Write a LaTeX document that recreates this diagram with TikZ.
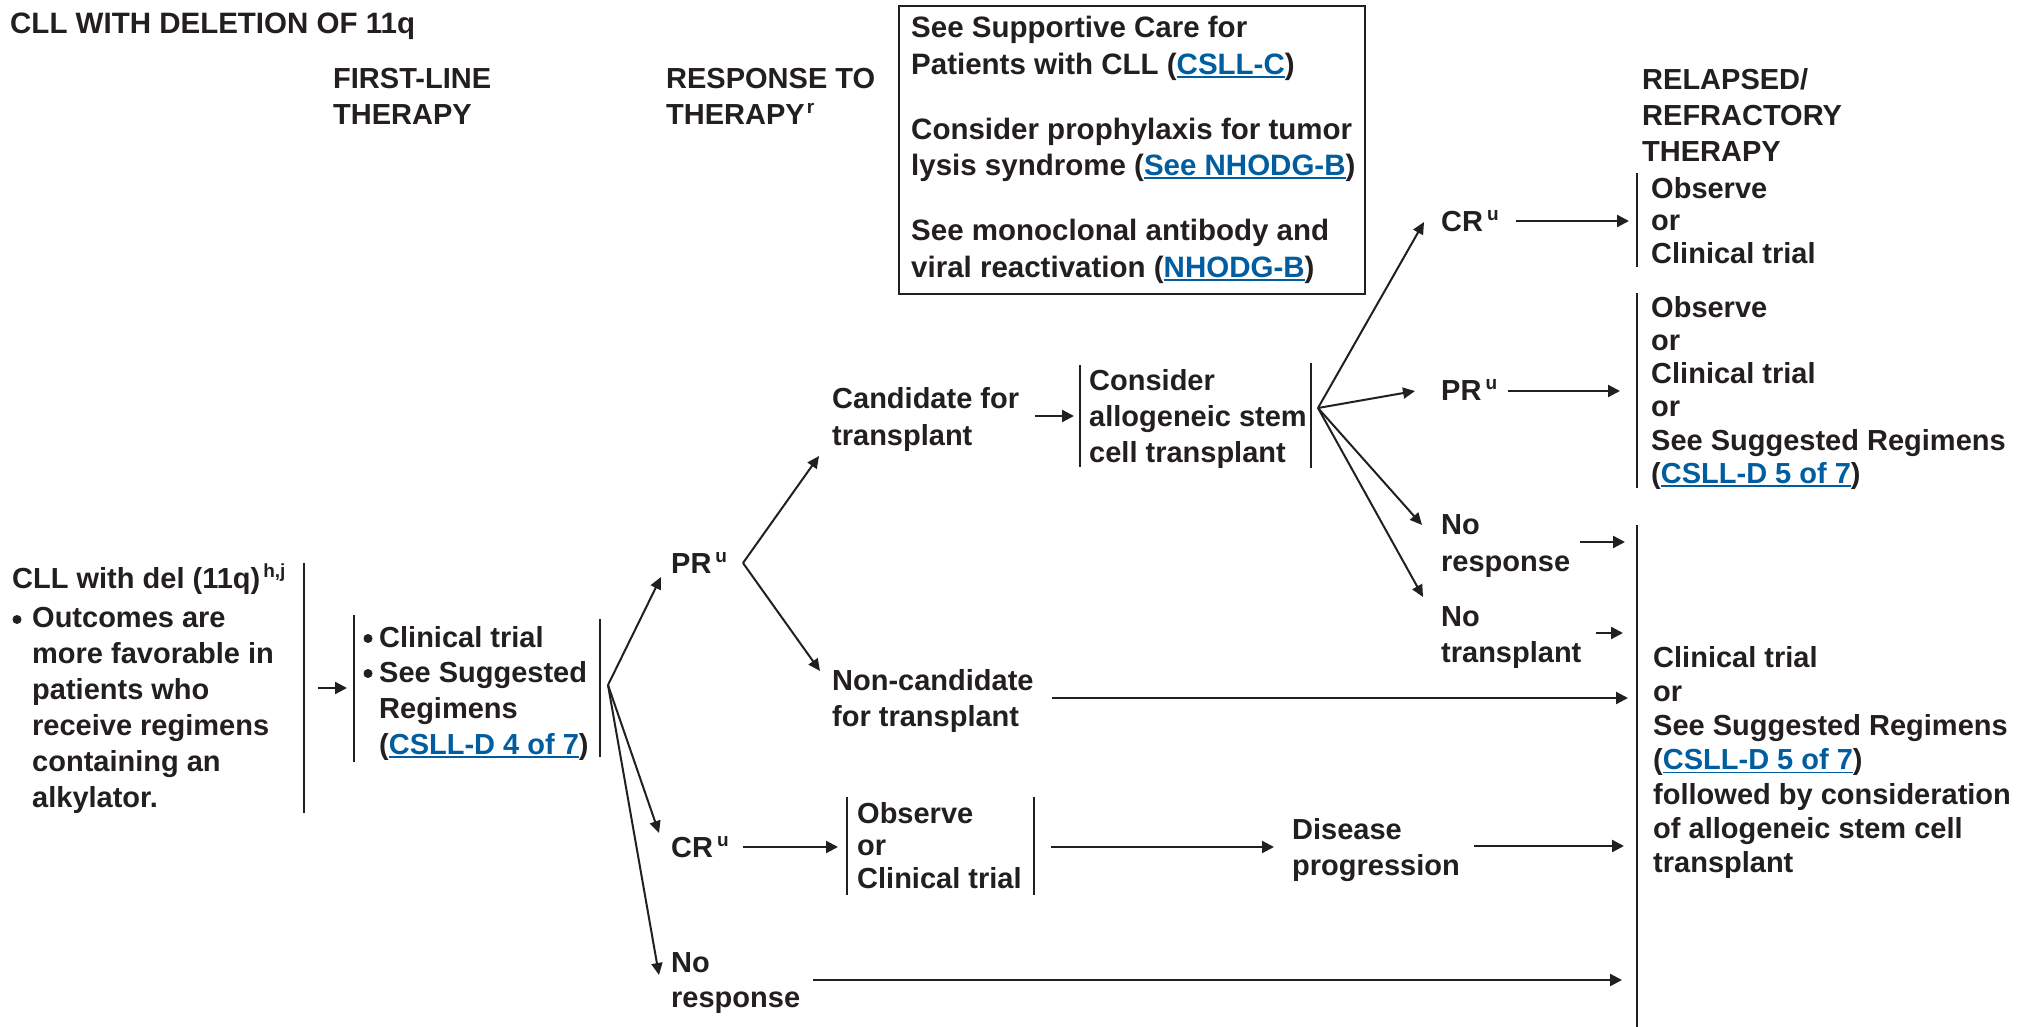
\documentclass[tikz,border=0pt]{standalone}
\usepackage{fontspec}
\setmainfont{Liberation Sans}
\usetikzlibrary{arrows.meta}
\definecolor{linkc}{RGB}{0,94,160}
\definecolor{ink}{RGB}{35,31,32}
\newcommand\mylink[1]{{\color{linkc}\setbox0\hbox{#1}\rlap{\rule[-3.5pt]{\wd0}{1.8pt}}\box0}}
\newcommand\mysup[1]{\raisebox{11pt}{\fontsize{19}{19}\selectfont #1}}
\begin{document}
\begin{tikzpicture}[x=1pt,y=-1pt,
  every node/.style={inner sep=0pt, text=ink},
  txt/.style={anchor=north west, align=left, font=\bfseries\fontsize{29}{#1}\selectfont},
  txt/.default=36,
  one/.style={anchor=base west, font=\bfseries\fontsize{29}{36}\selectfont},
  boxtext/.style={anchor=north west, align=left, font=\bfseries\fontsize{29.5}{36.5}\selectfont},
  dot/.style={circle, fill=ink, minimum size=9pt},
  arr/.style={draw=ink, line width=2.3pt, -{Triangle[length=12pt,width=12pt]}},
  conn/.style={draw=ink, line width=2pt, -{Triangle[length=12pt,width=11pt]}},
  bar/.style={draw=ink, line width=2pt},
]
\useasboundingbox[fill=white] (0,0) rectangle (2024,1027);

% headers
\node[one, font=\bfseries\fontsize{29.5}{36}\selectfont] (title) at (10,33.5) {CLL WITH DELETION OF 11q};
\node[txt] (h1) at (333,68) {FIRST-LINE\\THERAPY};
\node[txt] (h2) at (666,68) {RESPONSE TO\\THERAPY\hspace{2pt}\mysup{r}};
\node[txt] (h3) at (1642,68) {RELAPSED/\\REFRACTORY\\THERAPY};

% info box
\node[draw=ink, line width=2pt, anchor=north west, minimum width=466pt, minimum height=288pt] (box) at (898,5) {};
\node[boxtext] (boxtxt) at (911,16) {See Supportive Care for\\Patients with CLL (\mylink{CSLL-C})\\[28.5pt]Consider prophylaxis for tumor\\lysis syndrome (\mylink{See NHODG-B})\\[28.5pt]See monoclonal antibody and\\viral reactivation (\mylink{NHODG-B})};

% left block
\node[one] (cll) at (12,588.5) {CLL with del (11q)\hspace{3pt}\mysup{h,j}};
\node[dot] (bl1) at (17,619.5) {};
\node[txt] (cllt) at (32,607) {Outcomes are\\more favorable in\\patients who\\receive regimens\\containing an\\alkylator.};
\coordinate (barA1) at (304,563); \coordinate (barA2) at (304,813);
\draw[bar] (barA1) -- (barA2);
\coordinate (a0s) at (318,688); \coordinate (a0e) at (347,688);
\draw[arr] (a0s) -- (a0e);

% first-line therapy
\coordinate (barB1) at (354,615); \coordinate (barB2) at (354,762);
\draw[bar] (barB1) -- (barB2);
\node[dot] (bl2) at (368,638.5) {};
\node[dot] (bl3) at (368,673.5) {};
\node[txt=35.7] (flt) at (379,626) {Clinical trial\\See Suggested\\Regimens\\(\mylink{CSLL-D 4 of 7})};
\coordinate (barC1) at (600,619); \coordinate (barC2) at (600,757);
\draw[bar] (barC1) -- (barC2);
\coordinate (f1) at (608,685);

% responses
\node[one] (pr1) at (671,573.5) {PR\hspace{4pt}\mysup{u}};
\node[one] (cr1) at (671,857.5) {CR\hspace{4pt}\mysup{u}};
\node[txt=35] (nr1) at (671,952) {No\\response};
\coordinate (t-pr1) at (661,577);
\coordinate (t-cr1) at (659,833);
\coordinate (t-nr1) at (659,975);
\draw[conn] (f1) -- (t-pr1);
\draw[conn] (f1) -- (t-cr1);
\draw[conn] (f1) -- (t-nr1);

% PR branch
\coordinate (f2) at (743,563);
\coordinate (t-cand) at (819,456);
\coordinate (t-ncand) at (820,671);
\draw[conn] (f2) -- (t-cand);
\draw[conn] (f2) -- (t-ncand);
\node[txt=37] (cand) at (832,387) {Candidate for\\transplant};
\node[txt] (ncand) at (832,669) {Non-candidate\\for transplant};
\coordinate (a1s) at (1035,416); \coordinate (a1e) at (1074,416);
\draw[arr] (a1s) -- (a1e);
\coordinate (barD1) at (1080,365); \coordinate (barD2) at (1080,467);
\draw[bar] (barD1) -- (barD2);
\node[txt] (cons) at (1089,369) {Consider\\allogeneic stem\\cell transplant};
\coordinate (barE1) at (1311,363); \coordinate (barE2) at (1311,468);
\draw[bar] (barE1) -- (barE2);
\coordinate (f3) at (1318,408);
\coordinate (t-cr2) at (1424,222);
\coordinate (t-pr2) at (1415,391);
\coordinate (t-nr2) at (1422,525);
\coordinate (t-nt) at (1423,597);
\draw[conn] (f3) -- (t-cr2);
\draw[conn] (f3) -- (t-pr2);
\draw[conn] (f3) -- (t-nr2);
\draw[conn] (f3) -- (t-nt);

\node[one] (cr2) at (1441,232) {CR\hspace{4pt}\mysup{u}};
\node[one] (pr2) at (1441,400.5) {PR\hspace{4pt}\mysup{u}};
\node[txt=37] (nr2) at (1441,514) {No\\response};
\node[txt] (nt) at (1441,606) {No\\transplant};

\coordinate (a2s) at (1516,221); \coordinate (a2e) at (1629,221);
\draw[arr] (a2s) -- (a2e);
\coordinate (barF1) at (1637,173); \coordinate (barF2) at (1637,267);
\draw[bar] (barF1) -- (barF2);
\node[txt=32.5] (obs1) at (1651,177) {Observe\\or\\Clinical trial};

\coordinate (a3s) at (1508,391); \coordinate (a3e) at (1620,391);
\draw[arr] (a3s) -- (a3e);
\coordinate (barG1) at (1637,293); \coordinate (barG2) at (1637,488);
\draw[bar] (barG1) -- (barG2);
\node[txt=33.2] (obs2) at (1651,296) {Observe\\or\\Clinical trial\\or\\See Suggested Regimens\\(\mylink{CSLL-D 5 of 7})};

\coordinate (a4s) at (1580,542); \coordinate (a4e) at (1625,542);
\draw[arr] (a4s) -- (a4e);
\coordinate (a5s) at (1596,633); \coordinate (a5e) at (1623,633);
\draw[arr] (a5s) -- (a5e);
\coordinate (a6s) at (1052,698); \coordinate (a6e) at (1628,698);
\draw[arr] (a6s) -- (a6e);

\coordinate (barH1) at (1637,525); \coordinate (barH2) at (1637,1027);
\draw[bar] (barH1) -- (barH2);
\node[txt=34.2] (final) at (1653,646) {Clinical trial\\or\\See Suggested Regimens\\(\mylink{CSLL-D 5 of 7})\\followed by consideration\\of allogeneic stem cell\\transplant};

% CR branch
\coordinate (a7s) at (743,847); \coordinate (a7e) at (838,847);
\draw[arr] (a7s) -- (a7e);
\coordinate (barI1) at (847,797); \coordinate (barI2) at (847,895);
\draw[bar] (barI1) -- (barI2);
\node[txt=32.5] (obs3) at (857,802) {Observe\\or\\Clinical trial};
\coordinate (barJ1) at (1034,797); \coordinate (barJ2) at (1034,895);
\draw[bar] (barJ1) -- (barJ2);
\coordinate (a8s) at (1051,847); \coordinate (a8e) at (1274,847);
\draw[arr] (a8s) -- (a8e);
\node[txt] (dis) at (1292,818) {Disease\\progression};
\coordinate (a9s) at (1474,846); \coordinate (a9e) at (1624,846);
\draw[arr] (a9s) -- (a9e);

% no response
\coordinate (a10s) at (813,980); \coordinate (a10e) at (1622,980);
\draw[arr] (a10s) -- (a10e);
\end{tikzpicture}
\end{document}
